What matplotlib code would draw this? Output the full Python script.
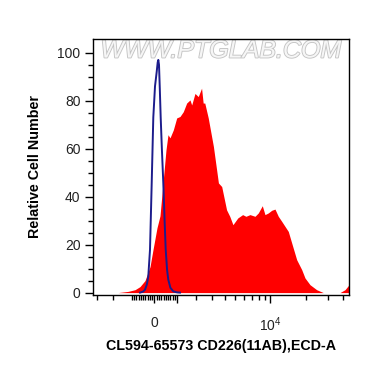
import numpy as np
import matplotlib
matplotlib.use("Agg")
import matplotlib.pyplot as plt
import matplotlib.patheffects as pe

plt.rcParams['font.family'] = ['Liberation Sans', 'DejaVu Sans']
plt.rcParams['mathtext.fontset'] = 'custom'
plt.rcParams['mathtext.rm'] = 'Liberation Sans'
plt.rcParams['mathtext.default'] = 'regular'

# sample (red) histogram: fluorescence intensity vs relative count
red_x = [-1707, -1196, -863, -635, -414, -195, -65, 108, 239, 370, 502, 591,
         681, 832, 990, 1147, 1309, 1480, 1655, 1746, 1928, 2117, 2317, 2416,
         2518, 2746, 3109, 3488, 3753, 4173, 4466, 4776, 5279, 5828, 6228,
         6755, 7459, 7960, 8607, 9071, 9669, 10327, 11005, 11725, 12517,
         13331, 14198, 15148, 16661, 18317, 19500, 21436, 24334, 27577,
         31303, 37789, 41538, 44206, 44804]
red_y = [0, 0.5, 1.2, 2.5, 5, 10.8, 17.9, 27, 32, 45.7, 59.5, 65.8,
         64.5, 67.8, 72.8, 73.4, 75.4, 79, 80.3, 78.2, 83, 81.7, 85.2, 79,
         79, 72.8, 60.9, 45.7, 44.2, 34.5, 31.8, 28.3, 31.1, 32.5, 31.8,
         32.5, 31.8, 33.2, 36.2, 32.5, 33.2, 34.3, 34.8, 31.8, 29.7,
         27.6, 25.5, 20.7, 13.7, 9.6, 6.1, 3.3, 1.2, 0,
         0, 0, 1.2, 2.9, 3.5]

# isotype control (blue) histogram
blue_x = [-635, -500, -414, -330, -269, -195, -121, -52, 22, 95, 139, 165,
          195, 230, 269, 320, 383, 440, 489, 550, 604, 700, 832, 1000, 1147]
blue_y = [0, 0.4, 1.2, 3.5, 6.8, 17.9, 45.7, 73, 86, 92, 96, 97,
          95, 85, 73, 60, 45.7, 30, 17.9, 9.5, 5.4, 2, 0.5, 0.1, 0]

W = 2300.0


def fwd(x):
    return np.arcsinh(np.asarray(x) / W)


def inv(y):
    return W * np.sinh(np.asarray(y))


fig = plt.figure(figsize=(3.7, 3.67), dpi=100)
ax = fig.add_axes([93 / 370, 72 / 367, 256 / 370, 256 / 367])
ax.set_xscale('function', functions=(fwd, inv))

ax.fill_between(red_x, red_y, 0, color='#ff0000', lw=0, zorder=2)
ax.plot(blue_x, blue_y, color='#1c1c8c', lw=1.4, zorder=3)

ax.text(0.5, 0.955, 'WWW.PTGLAB.COM', transform=ax.transAxes, ha='center',
        va='center', fontsize=18, style='italic', color='#f6f6f6', zorder=1,
        path_effects=[pe.withStroke(linewidth=1.3, foreground='#c4c4c4')])

ax.set_xlim(-3301, 44804)
ax.set_ylim(-1, 105.7)

ax.set_xticks([0, 1000, 10000])
ax.set_xticklabels(['0', '', '$10^4$'])
minor_x = ([-3000, -2000, -1000] + list(range(-900, 0, 100))
           + list(range(100, 1000, 100)) + list(range(2000, 10000, 1000))
           + [20000, 30000, 40000])
ax.set_xticks(minor_x, minor=True)
ax.set_yticks([0, 20, 40, 60, 80, 100])
ax.set_yticks(list(range(5, 105, 5)), minor=True)

ax.tick_params(which='major', direction='out', length=6, width=1,
               labelsize=10, labelcolor='#222222')
ax.tick_params(which='minor', direction='out', length=3.5, width=1)
ax.tick_params(axis='x', which='major', pad=9)
ax.tick_params(axis='y', which='major', pad=3)

for s in ax.spines.values():
    s.set_linewidth(1)

ax.set_ylabel('Relative Cell Number', fontsize=10.3, fontweight='bold',
              labelpad=11)
ax.set_xlabel('CL594-65573 CD226(11AB),ECD-A', fontsize=10.3,
              fontweight='bold', labelpad=3)

fig.savefig('out.png', dpi=100)
